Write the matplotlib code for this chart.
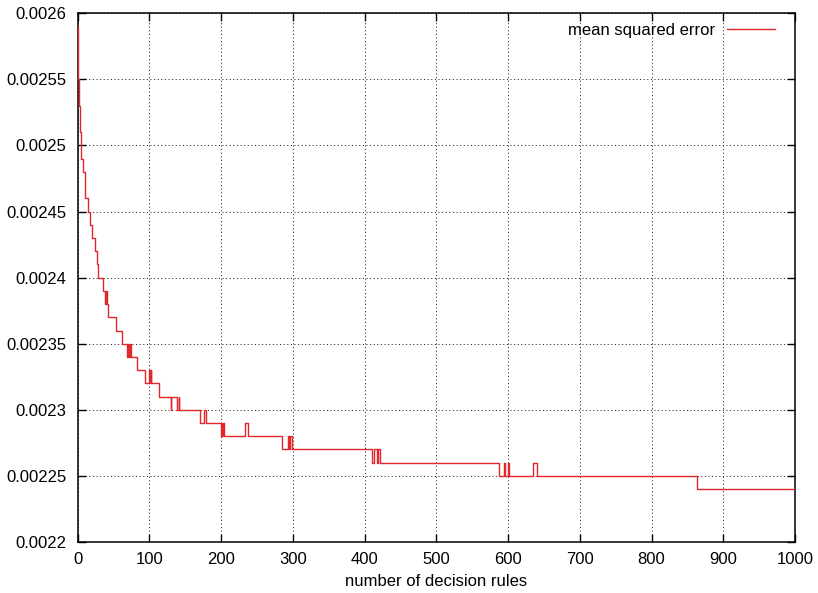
import matplotlib
matplotlib.use("Agg")
import matplotlib.pyplot as plt

# Step breakpoints: number of decision rules where the error changes, and the error from there on
rules = [0, 1, 2, 3, 4, 5, 8, 10, 11, 15, 17, 20, 25, 27, 29, 35, 39, 40, 41, 43, 53, 62,
         69, 70, 72, 73, 75, 83, 94, 100, 101, 102, 103, 113, 130, 131, 139, 141, 142,
         171, 176, 179, 200, 201, 202, 203, 204, 234, 237, 285, 293, 295, 296, 299,
         410, 413, 418, 419, 422, 588, 594, 596, 600, 601, 635, 641, 864, 1000]
mse = [0.00259, 0.00255, 0.00253, 0.00252, 0.00251, 0.00249, 0.00248, 0.00247, 0.00246,
       0.00245, 0.00244, 0.00243, 0.00242, 0.00241, 0.00240, 0.00239, 0.00238, 0.00239,
       0.00238, 0.00237, 0.00236, 0.00235, 0.00234, 0.00235, 0.00234, 0.00235, 0.00234,
       0.00233, 0.00232, 0.00233, 0.00232, 0.00233, 0.00232, 0.00231, 0.00230, 0.00231,
       0.00230, 0.00231, 0.00230, 0.00229, 0.00230, 0.00229, 0.00228, 0.00229, 0.00228,
       0.00229, 0.00228, 0.00229, 0.00228, 0.00227, 0.00228, 0.00227, 0.00228, 0.00227,
       0.00226, 0.00227, 0.00226, 0.00227, 0.00226, 0.00225, 0.00226, 0.00225, 0.00226,
       0.00225, 0.00226, 0.00225, 0.00224, 0.00224]

x_ticks = [0, 100, 200, 300, 400, 500, 600, 700, 800, 900, 1000]
x_tick_labels = ["0", "100", "200", "300", "400", "500", "600", "700", "800", "900", "1000"]
y_ticks = [0.0022, 0.00225, 0.0023, 0.00235, 0.0024, 0.00245, 0.0025, 0.00255, 0.0026]
y_tick_labels = ["0.0022", "0.00225", "0.0023", "0.00235", "0.0024", "0.00245",
                 "0.0025", "0.00255", "0.0026"]

plt.rcParams['font.family'] = ['Liberation Sans', 'DejaVu Sans']
plt.rcParams['font.size'] = 12

fig = plt.figure(figsize=(8.18, 5.93), dpi=100)
ax = fig.add_axes([77.5 / 818, 1 - 542 / 593, (795 - 77.5) / 818, (542 - 13.3) / 593])

ax.plot(rules, mse, drawstyle='steps-post', color='#e3262b', lw=1.0,
        label='mean squared error', zorder=3)

ax.set_xlim(0, 1000)
ax.set_ylim(0.0022, 0.0026)
ax.set_xticks(x_ticks)
ax.set_xticklabels(x_tick_labels)
ax.set_yticks(y_ticks)
ax.set_yticklabels(y_tick_labels)

ax.grid(True, color='#222222', linestyle=(0, (1, 2.6)), lw=0.72)
ax.tick_params(direction='in', length=6, width=1.0, top=True, right=True,
               labelsize=12, colors='black')
ax.tick_params(axis='x', pad=7)
ax.tick_params(axis='y', pad=8)
for s in ax.spines.values():
    s.set_linewidth(1.1)
    s.set_color('black')

ax.set_xlabel('number of decision rules', fontsize=12, labelpad=5)

ax.legend(loc='center right', bbox_to_anchor=(775 / 818, 1 - 30.5 / 593),
          bbox_transform=fig.transFigure, frameon=False, markerfirst=False,
          handlelength=2.9, handletextpad=0.7, borderpad=0, borderaxespad=0,
          fontsize=12)

fig.savefig('out.png', dpi=100)
